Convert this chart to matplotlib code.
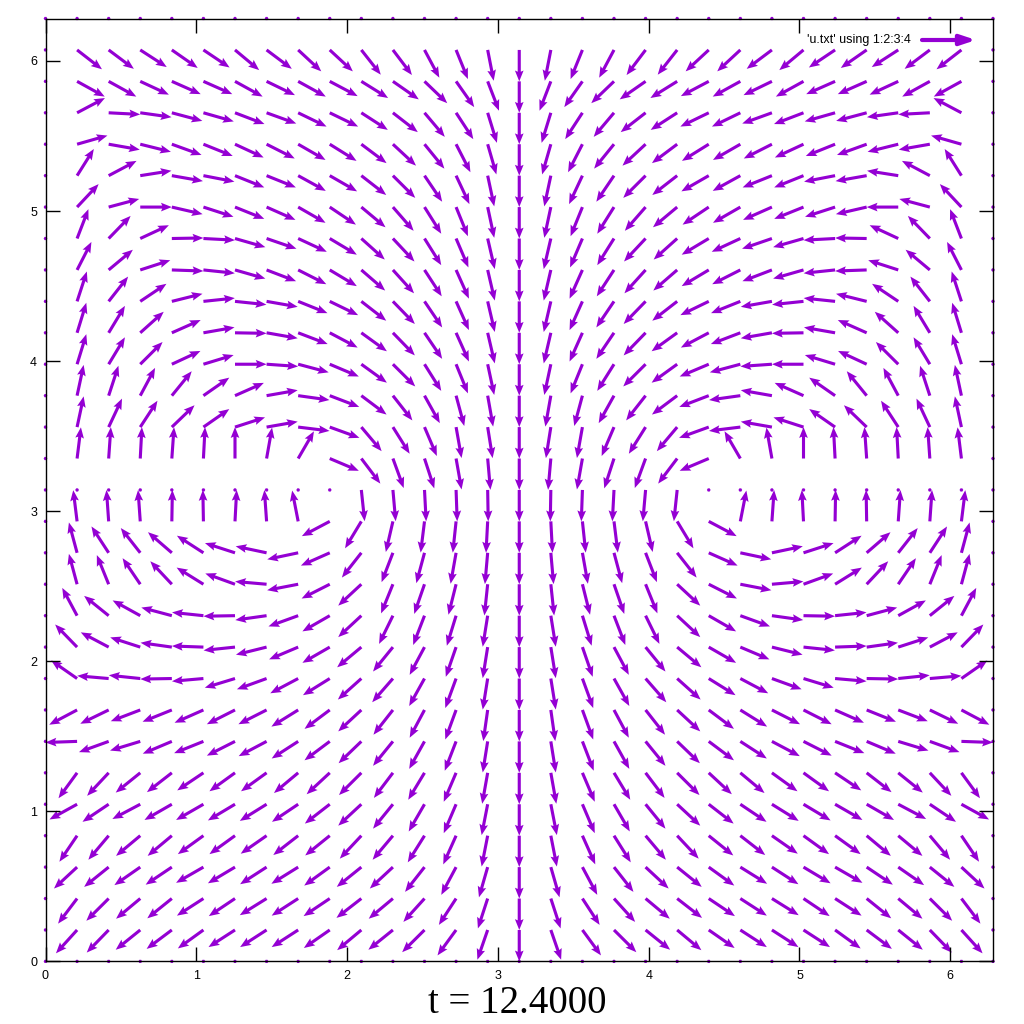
import numpy as np
import matplotlib
matplotlib.use("Agg")
import matplotlib.pyplot as plt

# ---------------- data ----------------
n_pts = 31                       # grid points per side, 0 .. 2*pi
x_min, x_max = 0.0, 2 * np.pi
y_min, y_max = 0.0, 2 * np.pi
x_ticks = [0, 1, 2, 3, 4, 5, 6]
y_ticks = [0, 1, 2, 3, 4, 5, 6]
title_text = "t = 12.4000"
legend_text = "'u.txt' using 1:2:3:4"

nan = np.nan
# arrow direction (degrees, counter-clockwise from +x) for the left half,
# keyed by row index (y = row * 2pi/30), values for columns 1..14
angle_rows = {
    29: [-38, -37, -33, -35, -34, -40, -37, -43, -43, -52, -53, -62, -68, -79],
    28: [-29, -29, -25, -24, -24, -29, -26, -29, -28, -32, -35, -44, -55, -69],
    27: [28, -3, -8, -15, -16, -21, -20, -26, -26, -33, -38, -50, -57, -73],
    26: [16, -10, -14, -20, -22, -25, -27, -30, -32, -37, -43, -51, -63, -74],
    25: [58, 28, 9, -10, -11, -22, -22, -29, -30, -38, -45, -56, -65, -78],
    24: [47, 15, 0, -13, -18, -22, -24, -30, -34, -40, -49, -58, -68, -78],
    23: [69, 46, 25, 1, -3, -16, -19, -25, -31, -42, -47, -58, -67, -77],
    22: [63, 40, 18, -2, -6, -16, -21, -27, -31, -41, -48, -57, -66, -77],
    21: [72, 52, 34, 14, 6, -6, -10, -22, -26, -38, -46, -56, -66, -77],
    20: [73, 59, 42, 24, 10, -1, -10, -21, -28, -36, -46, -56, -66, -77],
    19: [73, 59, 45, 25, 17, 0, -4, -15, -23, -36, -45, -58, -68, -78],
    18: [78, 72, 62, 51, 35, 24, 10, -8, -21, -37, -52, -61, -75, -80],
    17: [78, 65, 57, 44, 35, 18, 10, -7, -20, -50, -58, -67, -80, -81],
    16: [83, 86, 87, 86, 87, 90, 80, 60, -23, -53, -70, -72, -80, -85],
    15: [nan, nan, nan, nan, nan, nan, nan, nan, nan, -84, -85, -87, -88, -89],
    14: [97, 94, 94, 89, 91, 87, 94, 101, 208, 239, 257, 263, 264, 267],
    13: [105, 123, 128, 139, 147, 162, 168, 192, 204, 232, 249, 255, 260, 265],
    12: [105, 112, 124, 133, 148, 160, 175, 191, 207, 223, 248, 251, 256, 264],
    11: [118, 141, 151, 165, 174, 181, 188, 200, 210, 223, 244, 249, 253, 261],
    10: [134, 152, 162, 172, 178, 186, 194, 203, 210, 220, 231, 242, 251, 261],
    9:  [145, 175, 174, 181, 185, 197, 200, 208, 212, 222, 229, 241, 250, 261],
    8:  [208, 206, 201, 202, 204, 207, 207, 212, 217, 223, 232, 242, 250, 262],
    7:  [182, 200, 197, 203, 202, 207, 208, 213, 217, 224, 231, 241, 249, 261],
    6:  [234, 227, 219, 218, 214, 216, 216, 220, 223, 225, 233, 239, 247, 260],
    5:  [209, 214, 208, 210, 210, 211, 212, 214, 218, 223, 231, 240, 247, 259],
    4:  [236, 230, 220, 220, 216, 216, 215, 218, 219, 227, 230, 238, 246, 259],
    3:  [223, 219, 215, 214, 210, 211, 213, 212, 216, 219, 223, 232, 242, 254],
    2:  [233, 225, 220, 219, 213, 214, 212, 213, 214, 218, 220, 228, 237, 252],
    1:  [228, 226, 219, 217, 216, 213, 213, 213, 215, 220, 219, 225, 234, 251],
}
center_angle = -90          # column x = pi: straight down for rows 1..29

# ---------------- build the vector field ----------------
xg = np.linspace(x_min, x_max, n_pts)
yg = np.linspace(y_min, y_max, n_pts)
X, Y = np.meshgrid(xg, yg)
h = xg[1] - xg[0]
U = np.zeros_like(X)
V = np.zeros_like(X)
mid = (n_pts - 1) // 2
for r, vals in angle_rows.items():
    for i, a in enumerate(vals, start=1):
        if np.isnan(a):
            continue
        u = h * np.cos(np.radians(a))
        v = h * np.sin(np.radians(a))
        U[r, i], V[r, i] = u, v
        j = (n_pts - 1) - i                  # mirror column
        U[r, j], V[r, j] = -u, v
    U[r, mid] = h * np.cos(np.radians(center_angle))
    V[r, mid] = h * np.sin(np.radians(center_angle))

# ---------------- plot ----------------
color = "#9400D3"
W, H = 1024, 1024
fig = plt.figure(figsize=(W / 100, H / 100), dpi=100)
left_px, right_px, top_px, bot_px = 45.5, 993.0, 18.5, 961.4
ax = fig.add_axes([left_px / W, 1 - bot_px / H,
                   (right_px - left_px) / W, (bot_px - top_px) / H])

q = ax.quiver(X, Y, U, V, angles="xy", scale_units="xy", scale=1,
              color=color, units="dots", width=3.1,
              headwidth=2.8, headlength=3.5, headaxislength=3.1,
              minshaft=1, minlength=1.2, pivot="tail")
q.set_clip_on(False)

ax.set_xlim(x_min, x_max)
ax.set_ylim(y_min, y_max)
ax.set_xticks(x_ticks)
ax.set_yticks(y_ticks)
ax.tick_params(direction="in", length=10, width=1, top=True, right=True,
               labelsize=9, pad=6, colors="black")
for lab in ax.get_xticklabels() + ax.get_yticklabels():
    lab.set_family(["Liberation Sans", "DejaVu Sans"])
for sp in ax.spines.values():
    sp.set_linewidth(1.0)
    sp.set_color("black")

# legend (gnuplot style key)
fig.text(911 / W, 1 - 40 / H, legend_text, ha="right", va="center",
         fontsize=9, family=["Liberation Sans", "DejaVu Sans"])
ax.annotate("", xy=(976 / W, 1 - 40 / H), xytext=(922 / W, 1 - 40 / H),
            xycoords="figure fraction", textcoords="figure fraction",
            arrowprops=dict(arrowstyle="-|>,head_length=0.9,head_width=0.3",
                            lw=3.0, color=color, shrinkA=0, shrinkB=0))

fig.text(517 / W, 1 - 1013 / H, title_text, ha="center", va="baseline",
         fontsize=28, family=["Liberation Serif", "DejaVu Serif"])

fig.savefig("out.png", dpi=100)
